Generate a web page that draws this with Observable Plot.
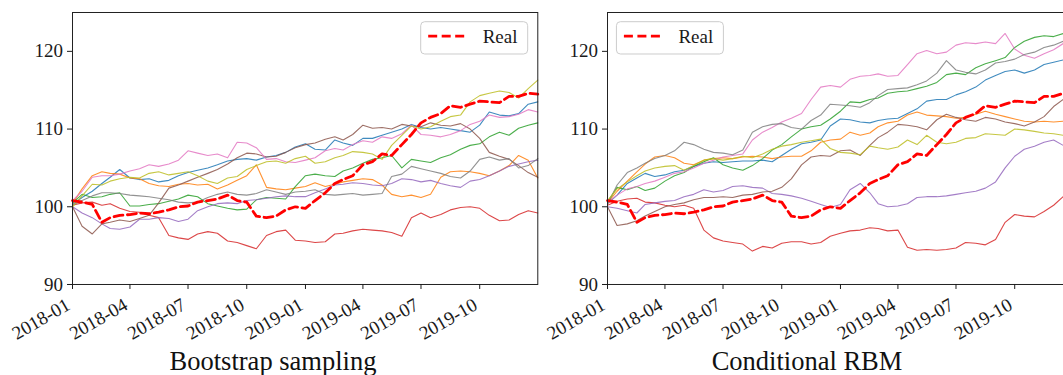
<!DOCTYPE html>
<html>
<head>
<meta charset="utf-8">
<script src="https://cdn.jsdelivr.net/npm/d3@7"></script>
<script src="https://cdn.jsdelivr.net/npm/@observablehq/plot@0.6"></script>
<style>
  html, body { margin: 0; padding: 0; background: #fff; overflow: hidden; width: 1063px; height: 375px; }
  #fig { position: relative; width: 1063px; height: 375px; overflow: hidden; }
  .panel { position: absolute; top: 0; }
  .panel text { font-family: "Liberation Serif", "Times New Roman", serif; }
  .title {
    position: absolute; top: 348px; transform: translateX(-50%);
    font-family: "Liberation Serif", "Times New Roman", serif; font-size: 26.5px; line-height: 26px;
    color: #111; white-space: nowrap;
  }
</style>
</head>
<body>
<div id="fig"></div>
<script>
// Semi-monthly observation dates: 1st and 16th of each month, 2018-01 .. 2019-12, plus year end
const dates = d3.range(24)
  .flatMap(m => [new Date(Date.UTC(2018, m, 1)), new Date(Date.UTC(2018, m, 16))])
  .concat([new Date(Date.UTC(2019, 11, 31))]);

const xTickLabels = ["2018-01", "2018-04", "2018-07", "2018-10", "2019-01", "2019-04", "2019-07", "2019-10"];
const yTicks = [90, 100, 110, 120];

const seriesNames = ["s0", "s1", "s2", "s3", "s4", "s5", "s6", "s7", "s8"];
const palette = ["#1f77b4", "#ff7f0e", "#2ca02c", "#d62728", "#9467bd", "#8c564b", "#e377c2", "#7f7f7f", "#bcbd22"];

// Observed price path (shown in both panels)
const real = [100.8, 100.6, 100.3, 98.0, 98.6, 98.9, 99.0, 99.2, 99.1, 99.3,
  99.6, 100.0, 100.1, 100.6, 100.8, 101.0, 101.5, 100.8, 100.6, 98.8,
  98.6, 98.8, 99.6, 100.0, 99.8, 100.8, 101.8, 103.0, 103.5, 104.0,
  105.4, 105.8, 106.8, 106.6, 108.0, 109.3, 110.8, 111.5, 112.0, 113.0,
  112.8, 113.2, 113.6, 113.5, 113.4, 114.2, 114.2, 114.6, 114.5];

// Bootstrap sampling paths
const bootBlue = [100.3, 101.2, 102.0, 103.0, 103.8, 104.8, 103.7, 103.5, 103.6, 103.2,
  103.4, 104.0, 104.4, 104.7, 105.0, 105.4, 105.9, 106.1, 106.2, 106.0,
  106.4, 106.6, 107.0, 107.7, 108.1, 107.4, 107.3, 108.6, 108.2, 107.9,
  108.8, 108.8, 109.2, 109.6, 110.0, 110.6, 110.2, 110.0, 110.2, 110.0,
  109.8, 109.6, 110.5, 112.2, 111.8, 111.7, 112.0, 113.2, 113.5];
const bootOrange = [100.4, 102.3, 104.0, 104.5, 104.3, 104.2, 103.7, 103.6, 103.0, 102.7,
  102.6, 102.9, 103.0, 102.8, 102.9, 102.3, 102.8, 103.4, 104.0, 105.4,
  102.5, 102.3, 102.2, 102.4, 102.6, 103.1, 102.6, 102.9, 103.2, 103.4,
  103.6, 103.5, 102.8, 101.6, 101.3, 101.5, 101.2, 101.6, 103.8, 104.5,
  104.6, 104.5, 104.3, 104.0, 104.6, 105.3, 106.6, 106.0, 103.7];
const bootGreen = [100.5, 101.6, 101.2, 101.3, 101.6, 101.8, 100.1, 100.1, 100.3, 100.4,
  100.7, 101.0, 101.5, 101.3, 100.4, 100.1, 99.8, 99.6, 99.7, 100.9,
  101.2, 101.1, 101.0, 102.6, 104.0, 104.2, 104.0, 103.9, 104.6, 105.0,
  105.6, 106.1, 106.3, 106.6, 105.0, 106.1, 105.9, 105.7, 106.3, 106.7,
  107.4, 107.9, 108.1, 109.0, 109.6, 109.2, 110.1, 110.5, 110.8];
const bootRed = [100.2, 100.5, 100.6, 100.2, 100.4, 99.8, 99.4, 99.3, 98.9, 98.6,
  96.3, 96.0, 95.8, 96.5, 96.8, 96.6, 95.6, 95.4, 95.0, 94.6,
  96.3, 96.8, 97.0, 95.7, 95.6, 95.4, 95.5, 96.5, 96.6, 96.9,
  97.1, 97.0, 96.9, 96.7, 96.2, 98.6, 99.2, 98.6, 99.0, 99.6,
  99.9, 100.0, 99.8, 98.9, 98.2, 98.3, 99.0, 99.5, 99.2];
const bootPurple = [100.0, 99.2, 98.6, 97.8, 97.2, 97.1, 97.4, 98.4, 98.4, 98.6,
  98.5, 98.1, 98.4, 99.5, 100.0, 100.4, 100.5, 100.4, 100.8, 100.9,
  101.1, 101.3, 101.4, 101.3, 101.3, 101.8, 102.3, 102.8, 102.9, 103.1,
  103.0, 102.8, 102.7, 103.0, 103.6, 103.5, 103.2, 103.4, 103.0, 102.7,
  102.5, 103.3, 103.5, 104.0, 104.6, 105.2, 105.5, 105.8, 106.0];
const bootBrown = [100.0, 97.5, 96.5, 97.8, 98.0, 98.3, 98.1, 98.5, 98.9, 100.5,
  102.4, 102.8, 103.3, 103.8, 104.3, 104.8, 105.5, 106.3, 106.9, 106.8,
  106.4, 106.5, 107.0, 107.6, 108.0, 108.2, 108.7, 109.0, 108.6, 109.3,
  110.5, 110.1, 110.2, 110.0, 110.6, 110.4, 110.3, 110.8, 110.5, 110.4,
  110.7, 110.0, 108.8, 107.0, 106.5, 106.1, 105.3, 104.4, 103.8];
const bootPink = [100.8, 102.0, 103.8, 104.0, 104.0, 104.2, 104.6, 104.9, 105.4, 105.2,
  105.5, 106.0, 107.2, 106.9, 106.6, 106.8, 106.3, 108.3, 108.2, 107.6,
  106.1, 106.2, 105.8, 105.7, 106.0, 106.3, 107.2, 107.5, 107.3, 108.0,
  108.5, 108.3, 109.0, 108.8, 109.4, 110.5, 109.3, 109.2, 109.0, 109.3,
  109.8, 110.6, 111.0, 111.8, 111.5, 111.6, 111.9, 112.5, 112.2];
const bootGray = [100.2, 100.8, 101.4, 101.8, 101.8, 101.7, 101.5, 101.4, 101.3, 101.1,
  100.9, 100.6, 100.5, 100.6, 101.2, 101.6, 101.9, 101.6, 101.5, 101.7,
  102.2, 101.9, 101.6, 101.9, 102.0, 102.2, 101.6, 101.5, 101.6, 101.7,
  101.5, 101.6, 101.7, 103.9, 104.2, 105.2, 104.9, 104.6, 104.3, 103.9,
  103.7, 104.6, 106.1, 106.4, 106.0, 106.2, 105.0, 105.3, 106.2];
const bootOlive = [100.0, 101.4, 102.9, 102.8, 103.3, 103.6, 103.8, 103.7, 104.3, 104.5,
  104.1, 104.3, 104.5, 104.0, 103.3, 103.0, 103.7, 103.9, 104.8, 105.3,
  105.8, 105.9, 105.6, 106.2, 106.5, 105.6, 105.8, 106.3, 106.6, 107.1,
  107.0, 106.8, 106.1, 107.9, 109.2, 110.4, 110.0, 110.3, 111.0, 111.6,
  111.8, 113.5, 114.3, 114.6, 114.9, 114.7, 114.0, 115.2, 116.3];

// Conditional RBM paths
const rbmBlue = [100.4, 101.5, 103.0, 103.7, 104.3, 103.9, 104.1, 104.5, 104.7, 105.2,
  105.6, 105.8, 105.7, 105.8, 105.9, 105.9, 106.0, 105.8, 106.6, 107.4,
  108.1, 108.3, 108.6, 110.4, 111.3, 111.2, 110.9, 110.8, 111.1, 111.3,
  111.4, 112.0, 112.6, 113.6, 113.8, 113.8, 114.4, 114.8, 115.4, 116.3,
  116.9, 117.4, 117.6, 117.2, 117.6, 118.3, 118.6, 118.9, 119.0];
const rbmOrange = [100.5, 102.0, 103.3, 104.5, 105.5, 106.4, 106.6, 106.3, 105.6, 105.4,
  106.0, 106.2, 106.3, 106.2, 106.4, 106.5, 106.4, 106.2, 106.4, 106.5,
  106.5, 107.2, 108.3, 108.6, 108.7, 109.6, 109.2, 109.5, 110.3, 110.8,
  111.0, 111.8, 112.2, 111.8, 111.7, 111.6, 111.4, 111.5, 111.9, 112.3,
  111.9, 111.6, 111.3, 111.0, 110.9, 111.0, 110.9, 111.0, 111.0];
const rbmGreen = [100.6, 102.5, 102.2, 102.6, 102.1, 102.4, 103.3, 104.0, 104.4, 105.2,
  105.8, 106.3, 105.4, 105.0, 104.7, 105.3, 106.2, 107.3, 108.0, 109.0,
  110.0, 110.3, 110.5, 111.3, 112.3, 113.5, 113.4, 113.8, 114.0, 114.6,
  114.8, 114.9, 115.2, 115.5, 116.0, 117.0, 117.2, 117.0, 117.9, 118.4,
  118.8, 119.2, 120.5, 121.3, 121.8, 122.0, 121.9, 122.3, 122.5];
const rbmRed = [100.2, 100.7, 101.0, 101.1, 100.6, 100.5, 100.2, 100.0, 100.2, 99.8,
  97.0, 96.0, 95.6, 95.4, 95.2, 94.3, 94.9, 94.7, 95.3, 95.5,
  95.5, 95.2, 95.4, 96.2, 96.6, 96.9, 97.0, 97.3, 97.2, 96.9,
  97.0, 94.8, 94.4, 94.5, 94.4, 94.5, 94.7, 95.4, 95.3, 95.1,
  95.8, 98.0, 99.0, 98.8, 98.7, 99.4, 100.2, 101.3, 101.6];
const rbmPurple = [100.0, 99.8, 99.5, 99.2, 100.3, 100.5, 100.7, 100.8, 101.3, 101.6,
  102.2, 101.9, 102.1, 102.6, 102.7, 102.5, 102.4, 101.7, 101.6, 101.4,
  101.1, 100.7, 100.3, 99.9, 100.3, 102.2, 103.0, 101.8, 100.4, 100.0,
  100.1, 100.4, 101.2, 101.3, 101.3, 101.4, 101.6, 101.8, 102.0, 102.4,
  103.2, 105.0, 106.5, 107.4, 107.8, 108.3, 108.6, 107.9, 108.0];
const rbmBrown = [100.0, 97.6, 97.8, 98.2, 98.8, 99.4, 100.0, 100.3, 100.5, 100.9,
  101.2, 101.2, 101.3, 101.2, 101.5, 101.6, 101.9, 102.0, 102.5, 103.6,
  105.4, 106.4, 106.6, 106.5, 107.2, 107.3, 106.6, 107.9, 108.9, 109.6,
  110.6, 110.5, 110.3, 109.9, 111.2, 111.9, 111.5, 111.2, 111.0, 111.5,
  111.3, 110.9, 110.7, 110.4, 110.9, 111.6, 112.9, 113.8, 114.0];
const rbmPink = [100.5, 101.5, 102.3, 102.6, 103.0, 103.3, 103.8, 104.3, 104.5, 105.0,
  105.6, 106.0, 106.4, 106.6, 106.8, 108.6, 109.6, 110.2, 110.9, 111.4,
  112.0, 113.8, 115.4, 115.6, 115.4, 116.4, 116.8, 116.9, 117.1, 116.8,
  116.9, 118.3, 119.7, 120.1, 119.7, 119.9, 120.8, 121.1, 121.0, 121.2,
  121.0, 122.3, 120.3, 119.5, 119.1, 119.7, 120.2, 121.0, 121.3];
const rbmGray = [100.3, 102.8, 104.4, 105.0, 105.6, 106.2, 106.6, 107.2, 108.3, 108.0,
  107.4, 107.0, 106.9, 106.7, 107.3, 109.6, 110.3, 110.6, 110.7, 110.2,
  110.0, 111.1, 111.8, 113.2, 113.1, 113.0, 112.8, 113.4, 114.3, 115.1,
  115.2, 115.3, 115.7, 116.2, 117.2, 118.8, 117.6, 117.3, 117.1, 117.6,
  118.5, 118.7, 119.0, 119.6, 119.9, 120.5, 120.8, 121.3, 121.5];
const rbmOlive = [100.8, 102.3, 103.2, 104.0, 104.6, 105.0, 105.2, 105.3, 104.7, 105.3,
  106.0, 106.2, 106.0, 106.2, 106.5, 106.3, 106.8, 107.4, 107.8, 108.0,
  108.3, 108.5, 108.7, 107.5, 107.0, 106.9, 106.7, 107.8, 107.6, 107.4,
  107.7, 108.6, 108.0, 109.2, 108.3, 108.1, 108.3, 108.8, 108.9, 109.4,
  109.3, 109.2, 110.0, 109.9, 109.7, 109.5, 109.4, 109.2, 109.0];

const bootstrap = [bootBlue, bootOrange, bootGreen, bootRed, bootPurple, bootBrown, bootPink, bootGray, bootOlive];
const rbm = [rbmBlue, rbmOrange, rbmGreen, rbmRed, rbmPurple, rbmBrown, rbmPink, rbmGray, rbmOlive];

const serif = '"Liberation Serif", "Times New Roman", serif';
const xTicks = xTickLabels.map(s => new Date(s + "-01T00:00:00Z"));
const xDomain = [new Date(Date.UTC(2018, 0, 1)), new Date(Date.UTC(2019, 11, 31))];

function drawPanel(paths, left, title, titleX, legendAt) {
  const rows = [];
  paths.forEach((vals, k) => vals.forEach((v, i) => rows.push({date: dates[i], value: v, name: seriesNames[k]})));
  const realRows = real.map((v, i) => ({date: dates[i], value: v}));

  const svg = Plot.plot({
    width: 539.3, height: 345,
    marginLeft: 72, marginRight: 2, marginTop: 12, marginBottom: 61,
    style: {fontSize: "19px", color: "#1a1a1a", background: "transparent", overflow: "visible"},
    x: {type: "utc", domain: xDomain},
    y: {domain: [90, 125]},
    color: {domain: seriesNames, range: palette},
    marks: [
      Plot.line(rows, {x: "date", y: "value", z: "name", stroke: "name", strokeWidth: 1.1, strokeOpacity: 0.85}),
      Plot.line(realRows, {x: "date", y: "value", stroke: "#ff0000", strokeWidth: 2.8, strokeDasharray: "9,4.5"}),
      Plot.frame({stroke: "#222", strokeWidth: 1}),
      // tick marks only; the rotated date labels come from the text mark below
      Plot.axisX({ticks: xTicks, tickSize: 5, tickFormat: () => "", label: null}),
      Plot.text(xTicks, {
        x: d => d, text: d3.utcFormat("%Y-%m"), frameAnchor: "bottom",
        rotate: -30, textAnchor: "end", lineAnchor: "bottom", dx: -1, dy: 24,
        fontSize: 19, fill: "#1a1a1a"
      }),
      Plot.axisY({ticks: yTicks, tickSize: 5, tickPadding: 4.5, label: null})
    ]
  });
  svg.classList.add("panel");
  svg.style.left = left + "px";
  svg.removeAttribute("font-family");
  svg.style.fontFamily = serif;

  // Legend box for the observed path
  const g = d3.select(svg).append("g").attr("transform", `translate(${legendAt},21.7)`);
  g.append("rect").attr("width", 107).attr("height", 32.3).attr("rx", 4)
    .attr("fill", "#fff").attr("fill-opacity", 0.8).attr("stroke", "#cccccc").attr("stroke-width", 1);
  g.append("line").attr("x1", 7.5).attr("x2", 46).attr("y1", 14.5).attr("y2", 14.5)
    .attr("stroke", "#ff0000").attr("stroke-width", 2.8).attr("stroke-dasharray", "9,4.5");
  g.append("text").attr("x", 62).attr("y", 21.5).attr("text-anchor", "start")
    .attr("font-size", 19).attr("fill", "#1a1a1a").text("Real");

  const fig = document.getElementById("fig");
  fig.appendChild(svg);
  const t = document.createElement("div");
  t.className = "title";
  t.style.left = titleX + "px";
  t.textContent = title;
  fig.appendChild(t);
}

drawPanel(bootstrap, 0, "Bootstrap sampling", 273, 420.7);
drawPanel(rbm, 535.3, "Conditional RBM", 807, 81.4);
</script>
</body>
</html>
